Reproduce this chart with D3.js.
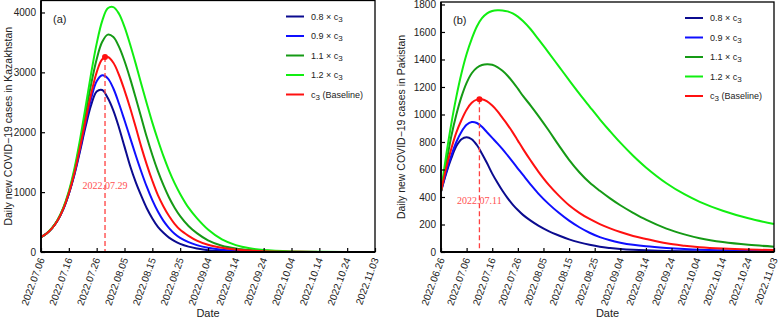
<!DOCTYPE html>
<meta charset="utf-8">
<style>
body { margin: 0; background: #fff; }
svg { font-family: "Liberation Sans", Arial, sans-serif; }
.axis path { display: none; }
.axis line { stroke: #000; stroke-width: 1.2; }
.axis text { fill: #222; font-size: 10px; }
.frame { fill: none; stroke: #000; stroke-width: 1.3; }
.series { fill: none; stroke-width: 2; }
</style>
<svg width="783" height="321"></svg>
<script src="https://d3js.org/d3.v7.min.js"></script>
<script>

// ---- data ----
var labels = ["0.8 × c", "0.9 × c", "1.1 × c", "1.2 × c", "c"];
var colors = ["#0b0b8f", "#0f0fff", "#159a15", "#11ee11", "#ff1010"];

// (a) Kazakhstan, days after 2022.07.06
var kzStart = "2022-07-06", kzEnd = "2022-11-03";
var kzPeak = "2022-07-29";
var kzDays = [0,2,4,6,8,10,12,14,16,18,20,22,24,26,28,30,32,34,36,38,40,42,44,46,48,50,53,56,60,65,70,75,80,90,100,120];
var kz08 = [250,310,400,530,715,970,1290,1680,2090,2450,2680,2705,2570,2360,2080,1760,1440,1170,940,730,560,420,320,240,180,135,90,60,30,16,9,5,3,1,0.5,0];
var kz09 = [250,310,400,530,718,975,1305,1710,2150,2560,2850,2950,2900,2730,2480,2200,1910,1620,1345,1090,865,675,520,400,305,235,165,115,70,38,21,12,7,2,1,0];
var kz11 = [250,310,400,535,728,995,1350,1800,2300,2800,3220,3510,3630,3590,3430,3190,2900,2580,2250,1920,1620,1350,1115,910,740,600,435,315,195,105,58,32,18,6,2,0.5];
var kz12 = [250,310,405,540,738,1015,1390,1870,2420,2980,3480,3860,4070,4090,3980,3760,3470,3150,2810,2480,2160,1870,1600,1360,1150,970,740,565,375,210,115,62,33,10,3,0.5];
var kzBase = [250,310,400,530,720,980,1320,1740,2200,2640,3000,3220,3255,3160,2960,2700,2410,2090,1760,1460,1190,950,760,600,470,370,270,190,120,70,40,24,14,5,2,0.5];
var kzYTicks = [0, 1000, 2000, 3000, 4000];

// (b) Pakistan, days after 2022.06.26
var pkStart = "2022-06-26", pkEnd = "2022-11-03";
var pkPeak = "2022-07-11";
var pkDays = [0,2,4,6,8,10,12,14,16,18,20,22,24,26,28,30,32,35,38,42,46,50,54,58,62,66,70,75,80,88,95,101,110,120,130];
var pk08 = [440,570,680,770,820,834,820,778,715,645,570,505,445,392,345,305,270,228,192,152,120,92,70,52,38,29,22,16,12,8,6,4,3,2,1];
var pk09 = [440,580,700,800,875,925,945,938,910,870,830,790,748,702,655,607,560,490,425,350,285,228,180,140,108,85,68,52,41,29,21,16,12,8,6];
var pk11 = [440,640,840,1000,1130,1230,1300,1340,1360,1366,1362,1345,1318,1282,1238,1188,1135,1065,990,885,775,670,580,505,445,390,340,285,235,170,128,100,72,52,39];
var pk12 = [440,700,930,1130,1300,1440,1550,1640,1700,1735,1752,1758,1757,1750,1735,1712,1680,1620,1548,1450,1350,1250,1152,1058,965,878,795,700,615,500,420,365,300,245,203];
var pkBase = [440,610,750,870,960,1035,1085,1108,1110,1095,1065,1025,975,925,870,810,750,665,585,490,410,340,285,240,203,172,145,117,95,63,46,35,25,18,14];
var pkYTicks = [0,200,400,600,800,1000,1200,1400,1600,1800];

var svg = d3.select("svg");
var parse = d3.utcParse("%Y-%m-%d");
var fmt = d3.utcFormat("%Y.%m.%d");

function panel(o) {
  var start = parse(o.start), end = parse(o.end);
  var x = d3.scaleUtc().domain([start, end]).range([o.left, o.right]);
  var y = d3.scaleLinear().domain([0, o.ymax]).range([o.bottom, o.top]);
  var g = svg.append("g");

  var line = d3.line()
      .curve(d3.curveCatmullRom.alpha(0.5))
      .x(function(d) { return x(d3.utcDay.offset(start, d[0])); })
      .y(function(d) { return y(d[1]); });

  o.series.forEach(function(vals, i) {
    g.append("path")
        .attr("class", "series")
        .attr("stroke", colors[i])
        .attr("d", line(o.days.map(function(d, j) { return [d, vals[j]]; })));
  });

  // baseline peak marker
  var base = o.series[4];
  var peakVal = d3.max(base);
  var px = x(parse(o.peak));
  g.append("line")
      .attr("x1", px).attr("x2", px)
      .attr("y1", y(peakVal)).attr("y2", y(0))
      .attr("stroke", "#ff4040")
      .attr("stroke-width", 1.3)
      .attr("stroke-dasharray", "5,3");
  g.append("circle")
      .attr("cx", px).attr("cy", y(peakVal)).attr("r", 3)
      .attr("fill", "#ff1010");
  g.append("text")
      .attr("x", px).attr("y", o.bottom - o.labelUp)
      .attr("text-anchor", "middle")
      .attr("fill", "#ff5050")
      .style("font", "10px 'Liberation Serif', serif")
      .text(fmt(parse(o.peak)));

  g.append("rect")
      .attr("class", "frame")
      .attr("x", o.left).attr("y", o.top)
      .attr("width", o.right - o.left).attr("height", o.bottom - o.top);
  g.append("line").attr("x1", o.left).attr("x2", o.right).attr("y1", o.bottom).attr("y2", o.bottom)
      .attr("stroke", "#000").attr("stroke-width", 1.8);
  g.append("line").attr("x1", o.left).attr("x2", o.left).attr("y1", o.top).attr("y2", o.bottom)
      .attr("stroke", "#000").attr("stroke-width", 1.8);

  g.append("g")
      .attr("class", "axis")
      .attr("transform", "translate(" + o.left + ",0)")
      .call(d3.axisLeft(y).tickValues(o.yTicks).tickSize(-4).tickPadding(5).tickFormat(d3.format("d")));

  var xTicks = d3.utcDay.range(start, d3.utcDay.offset(end, 1), 10);
  var xa = g.append("g")
      .attr("class", "axis")
      .attr("transform", "translate(0," + o.bottom + ")")
      .call(d3.axisBottom(x).tickValues(xTicks).tickSize(-4).tickFormat(fmt));
  xa.selectAll("text")
      .attr("x", 0).attr("y", 0).attr("dy", "0.35em")
      .attr("text-anchor", "end")
      .attr("transform", "translate(0,6) rotate(-70)");

  g.append("text")
      .attr("x", (o.left + o.right) / 2).attr("y", 317)
      .attr("text-anchor", "middle")
      .attr("fill", "#222")
      .style("font-size", "11px")
      .text("Date");

  g.append("text")
      .attr("transform", "translate(" + o.ylabX + "," + ((o.top + o.bottom) / 2) + ") rotate(-90)")
      .attr("text-anchor", "middle")
      .attr("fill", "#222")
      .style("font-size", "10.5px")
      .text(o.ylabel);

  g.append("text")
      .attr("x", o.left + 12).attr("y", o.top + 22)
      .attr("fill", "#222")
      .style("font-size", "11px")
      .text(o.tag);

  // legend
  var lg = g.append("g").attr("transform", "translate(" + (o.right - 89) + "," + (o.top + 16) + ")");
  labels.forEach(function(t, i) {
    var row = lg.append("g").attr("transform", "translate(0," + (i * 19.5) + ")");
    row.append("line").attr("x1", 0).attr("x2", 18)
        .attr("stroke", colors[i]).attr("stroke-width", 2);
    var tx = row.append("text").attr("x", 25).attr("dy", "0.35em")
        .attr("fill", "#222").style("font-size", "9px");
    tx.append("tspan").text(t);
    tx.append("tspan").attr("dy", 2).style("font-size", "8px").text("3");
    if (i === 4) tx.append("tspan").attr("dy", -2).text(" (Baseline)");
  });
}

panel({
  start: kzStart, end: kzEnd, peak: kzPeak,
  left: 41, right: 375, top: 0.5, bottom: 252, ymax: 4200,
  days: kzDays, series: [kz08, kz09, kz11, kz12, kzBase],
  yTicks: kzYTicks, labelUp: 63, ylabX: 12, tag: "(a)",
  ylabel: "Daily new COVID\u221219 cases in Kazakhstan"
});

panel({
  start: pkStart, end: pkEnd, peak: pkPeak,
  left: 441, right: 774, top: 2, bottom: 252, ymax: 1818,
  days: pkDays, series: [pk08, pk09, pk11, pk12, pkBase],
  yTicks: pkYTicks, labelUp: 48, ylabX: 405, tag: "(b)",
  ylabel: "Daily new COVID\u221219 cases in Pakistan"
});

</script>
